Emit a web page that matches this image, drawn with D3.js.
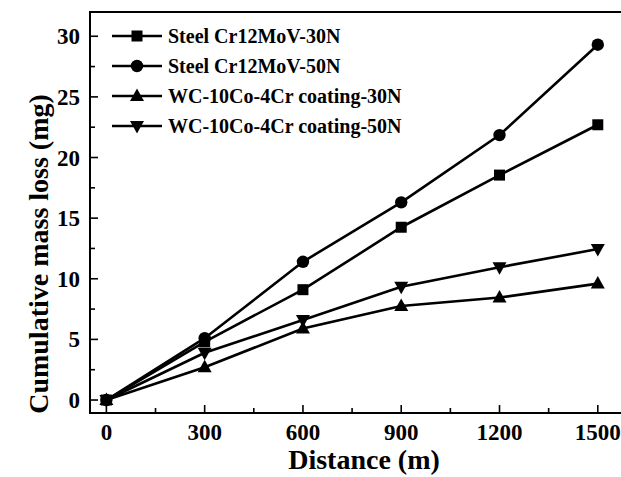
<!DOCTYPE html>
<html><head><meta charset="utf-8">
<script src="https://cdn.jsdelivr.net/npm/d3@7"></script>
<style>body{margin:0;background:#fff}svg{display:block}</style>
</head><body>
<svg id="c" width="621" height="477"></svg>
<script>
const distances = [0, 300, 600, 900, 1200, 1500];
const seriesNames = ["Steel Cr12MoV-30N", "Steel Cr12MoV-50N", "WC-10Co-4Cr coating-30N", "WC-10Co-4Cr coating-50N"];
const steel30 = [0, 4.8, 9.1, 14.25, 18.55, 22.7];
const steel50 = [0, 5.1, 11.4, 16.3, 21.85, 29.3];
const wc30 = [0, 2.7, 5.9, 7.75, 8.45, 9.6];
const wc50 = [0, 3.9, 6.6, 9.35, 10.95, 12.45];
const xTicks = [0, 300, 600, 900, 1200, 1500];
const yTicks = [0, 5, 10, 15, 20, 25, 30];
const symbols = ["square", "circle", "up", "down"];

const svg = d3.select("#c");
const L = 90, T = 12, R = 624, B = 413;
const x = d3.scaleLinear().domain([-50, 1580]).range([L, R]);
const y = d3.scaleLinear().domain([-1.07, 32]).range([B, T]);
const font = "'Liberation Serif','Times New Roman',serif";

// frame
svg.append("rect").attr("x", L).attr("y", T).attr("width", R - L).attr("height", B - T)
  .attr("fill", "none").attr("stroke", "#000").attr("stroke-width", 2);

// x axis ticks
const xMinor = d3.range(-150, 1650, 150).filter(v => v > -50 && v < 1580);
xMinor.forEach(v => {
  const major = xTicks.includes(v);
  svg.append("line").attr("x1", x(v)).attr("x2", x(v)).attr("y1", B).attr("y2", B - (major ? 8 : 5))
    .attr("stroke", "#000").attr("stroke-width", 1.6);
});
svg.selectAll(".xl").data(xTicks).enter().append("text")
  .attr("x", d => x(d)).attr("y", 440).attr("text-anchor", "middle")
  .attr("font-family", font).attr("font-weight", "bold").attr("font-size", 23).text(d => d);

// y axis ticks
const yMinor = d3.range(-2.5, 32.5, 2.5).filter(v => v > -1.07 && v < 32);
yMinor.forEach(v => {
  const major = yTicks.includes(v);
  svg.append("line").attr("x1", L).attr("x2", L + (major ? 8 : 5)).attr("y1", y(v)).attr("y2", y(v))
    .attr("stroke", "#000").attr("stroke-width", 1.6);
});
svg.selectAll(".yl").data(yTicks).enter().append("text")
  .attr("x", 80).attr("y", d => y(d) + 8).attr("text-anchor", "end")
  .attr("font-family", font).attr("font-weight", "bold").attr("font-size", 23).text(d => d);

// titles
svg.append("text").attr("x", 364).attr("y", 469).attr("text-anchor", "middle")
  .attr("font-family", font).attr("font-weight", "bold").attr("font-size", 28).text("Distance (m)");
svg.append("text").attr("transform", "translate(48,254) rotate(-90)").attr("text-anchor", "middle")
  .attr("font-family", font).attr("font-weight", "bold").attr("font-size", 28).text("Cumulative mass loss (mg)");

function drawMarker(g, type, cx, cy) {
  if (type === "square") {
    g.append("rect").attr("x", cx - 5.5).attr("y", cy - 5.5).attr("width", 11).attr("height", 11).attr("fill", "#000");
  } else if (type === "circle") {
    g.append("circle").attr("cx", cx).attr("cy", cy).attr("r", 6.2).attr("fill", "#000");
  } else if (type === "up") {
    g.append("path").attr("d", `M${cx},${cy - 7.5}L${cx + 7},${cy + 5}L${cx - 7},${cy + 5}Z`).attr("fill", "#000");
  } else {
    g.append("path").attr("d", `M${cx},${cy + 7.5}L${cx + 7},${cy - 5}L${cx - 7},${cy - 5}Z`).attr("fill", "#000");
  }
}

const allSeries = [steel30, steel50, wc30, wc50];
const line = d3.line().x((d, i) => x(distances[i])).y(d => y(d));
allSeries.forEach((s, k) => {
  svg.append("path").datum(s).attr("d", line).attr("fill", "none").attr("stroke", "#000").attr("stroke-width", 2.6);
});
allSeries.forEach((s, k) => {
  const g = svg.append("g");
  s.forEach((v, i) => drawMarker(g, symbols[k], x(distances[i]), y(v)));
});

// legend
seriesNames.forEach((n, k) => {
  const ly = 36 + k * 30;
  svg.append("line").attr("x1", 112).attr("x2", 162).attr("y1", ly).attr("y2", ly).attr("stroke", "#000").attr("stroke-width", 2.6);
  drawMarker(svg.append("g"), symbols[k], 137, ly);
  svg.append("text").attr("x", 168).attr("y", ly + 7).attr("font-family", font).attr("font-weight", "bold")
    .attr("font-size", 20).text(n);
});
</script>
</body></html>
